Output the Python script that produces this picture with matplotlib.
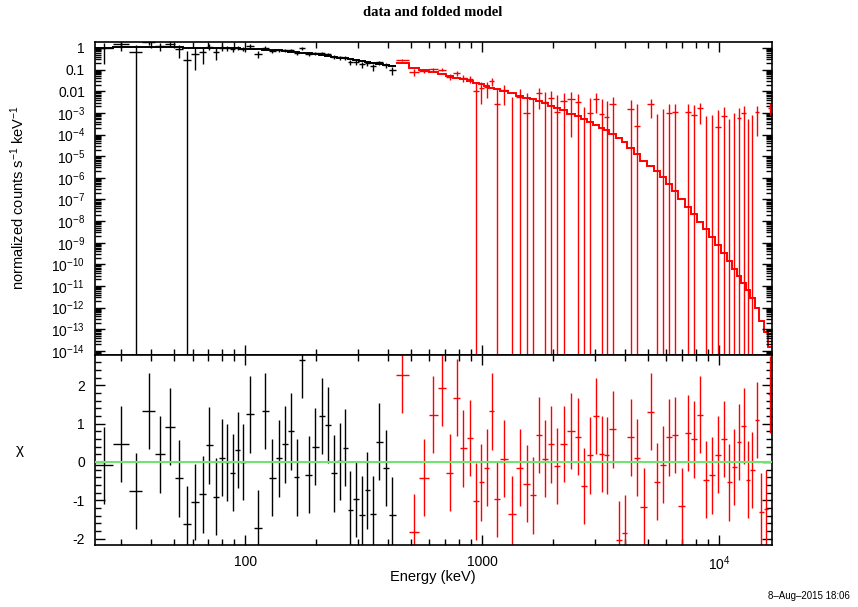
import numpy as np
import matplotlib
matplotlib.use("Agg")
import matplotlib.pyplot as plt
from matplotlib.ticker import (LogLocator, FuncFormatter, MultipleLocator,
                               NullFormatter, FixedLocator)

plt.rcParams['font.family'] = ['Liberation Sans', 'DejaVu Sans']
plt.rcParams['mathtext.fontset'] = 'custom'
plt.rcParams['mathtext.rm'] = 'Liberation Sans'
plt.rcParams['mathtext.it'] = 'Liberation Sans:italic'

# ---- instrument 1 (black): bin edges in keV, folded rate, error, model, chi
black_edges = [23.2, 27.6, 32.3, 36.9, 41.5, 45.9, 50.4, 54.8, 59.4, 64.0, 68.4,
               73.0, 77.5, 81.9, 86.4, 91.0, 95.5, 101.0, 108.6, 117.4, 126.0,
               134.9, 143.6, 152.3, 161.0, 169.5, 179.5, 191.4, 204.7, 217.6,
               230.6, 244.4, 258.3, 271.2, 285.0, 302.0, 319.9, 336.7, 356.2,
               380.2, 405.7, 431.5]
black_rate = [0.975, 1.45, 0.631, 1.81, 1.22, 1.53, 0.857, 0.265, 0.550, 0.640,
              1.17, 0.654, 1.01, 0.974, 0.885, 1.02, 0.933, 1.28, 0.545, 1.05,
              0.756, 0.788, 0.779, 0.772, 0.598, 0.975, 0.526, 0.565, 0.587,
              0.523, 0.374, 0.364, 0.357, 0.227, 0.217, 0.175, 0.192, 0.141,
              0.215, 0.163, 0.099]
black_err = [0.8, 0.7, 0.68, 0.5, 0.5, 0.47, 0.5, 0.48, 0.45, 0.45, 0.4, 0.38,
             0.32, 0.28, 0.25, 0.22, 0.2, 0.3, 0.2, 0.15, 0.14, 0.13, 0.12, 0.12,
             0.12, 0.14, 0.11, 0.1, 0.09, 0.09, 0.08, 0.08, 0.07, 0.06, 0.06,
             0.055, 0.05, 0.05, 0.045, 0.045, 0.04]
black_model = [1.047, 1.122, 1.148, 1.148, 1.122, 1.096, 1.072, 1.047, 1.023,
               1.023, 1.0, 1.0, 0.977, 0.977, 0.955, 0.955, 0.933, 0.912, 0.891,
               0.851, 0.813, 0.776, 0.724, 0.676, 0.646, 0.603, 0.562, 0.525,
               0.479, 0.437, 0.398, 0.363, 0.331, 0.302, 0.275, 0.251, 0.229,
               0.209, 0.191, 0.170, 0.155]
black_chi = [-0.09, 0.47, -0.76, 1.33, 0.20, 0.92, -0.43, -1.63, -1.05, -0.85,
             0.43, -0.91, 0.11, -0.01, -0.28, 0.31, 0.0, 1.24, -1.73, 1.33,
             -0.41, 0.09, 0.46, 0.80, -0.40, 2.66, -0.33, 0.40, 1.20, 0.96,
             -0.30, 0.01, 0.37, -1.25, -0.97, -1.38, -0.74, -1.37, 0.53, -0.16,
             -1.39]

# ---- instrument 2 (red)
red_edges = [433.5, 489.8, 543.3, 595.7, 650.6, 703.5, 755.6, 807.8, 861.5,
             916.2, 968.3, 1019, 1074, 1127, 1191, 1283, 1390, 1493, 1595, 1695,
             1796, 1905, 2017, 2138, 2291, 2462, 2623, 2782, 2951, 3119, 3281,
             3451, 3664, 3890, 4111, 4366, 4656, 4977, 5321, 5653, 5986, 6339,
             6745, 7198, 7638, 8091, 8547, 9057, 9616, 10180, 10760, 11330,
             11880, 12420, 12980, 13560, 14130, 14790, 15450, 16080, 16740]
red_rate = [0.275, 0.077, 0.0873, 0.1015, 0.0991, 0.048, 0.0679, 0.0404, 0.0383,
            0.0106, 0.0145, 0.0157, 0.0286, 0.0026, 0.0112, -0.00234, 0.00526,
            0.00102, -0.00175, 0.00794, 0.00323, 0.00486, 0.00114, 0.00367,
            0.00458, 0.00333, -0.0019, 0.00101, 0.0046, 0.0009, 0.00067, 0.00249,
            -0.00541, -0.00479, 0.00156, 0.00025, -0.00234, 0.00249, -0.00094,
            -0.00012, 0.00102, 0.00105, -0.00173, 0.00105, 0.00083, 0.0016,
            -0.0006, -0.00042, 0.00023, 0.00072, -0.00058, -0.00014, 0.00057,
            0.00103, -0.00046, -0.00021, 0.00109, -0.0013, -0.00122, 0.00176]
red_err = [0.035, 0.025, 0.02, 0.018, 0.017, 0.016, 0.015, 0.014, 0.013, 0.013,
           0.012, 0.011, 0.011, 0.010, 0.009, 0.0075, 0.007, 0.007, 0.0068,
           0.0065, 0.006, 0.0058, 0.0055, 0.005, 0.0045, 0.004, 0.0038, 0.0037,
           0.0036, 0.0033, 0.003, 0.0028, 0.0027, 0.0026, 0.0024, 0.0022, 0.002,
           0.0019, 0.0018, 0.0017, 0.0016, 0.0015, 0.0015, 0.0014, 0.0014,
           0.0013, 0.0013, 0.0012, 0.0012, 0.0012, 0.0011, 0.0011, 0.0011,
           0.0011, 0.001, 0.001, 0.001, 0.001, 0.001, 0.001]
red_model = [0.195, 0.123, 0.0955, 0.0794, 0.0661, 0.0525, 0.0427, 0.0355,
             0.0302, 0.024, 0.0209, 0.0174, 0.0141, 0.0123, 0.0105, 0.00794,
             0.00631, 0.00501, 0.00417, 0.00339, 0.00275, 0.00219, 0.00174,
             0.00132, 9.3e-4, 6.9e-4, 5.0e-4, 3.8e-4, 2.8e-4, 2.1e-4, 1.6e-4,
             1.1e-4, 7.1e-5, 4.5e-5, 2.5e-5, 1.26e-5, 6.3e-6, 3.5e-6, 2.0e-6,
             1.05e-6, 5.0e-7, 2.5e-7, 1.05e-7, 4.7e-8, 2.1e-8, 9.5e-9, 4.5e-9,
             1.8e-9, 7.9e-10, 3.2e-10, 1.4e-10, 6.3e-11, 2.8e-11, 1.4e-11,
             6.3e-12, 2.8e-12, 1.0e-12, 2.5e-13, 7.9e-14, 1.6e-14]
red_chi = [2.28, -1.84, -0.41, 1.23, 1.94, -0.28, 1.68, 0.35, 0.62, -1.03,
           -0.53, -0.15, 1.32, -0.97, 0.08, -1.37, -0.15, -0.57, -0.87, 0.70,
           0.08, 0.46, -0.11, 0.47, 0.81, 0.66, -0.63, 0.17, 1.20, 0.21, 0.17,
           0.85, -2.03, -1.86, 0.64, 0.11, -1.17, 1.31, -0.52, -0.07, 0.64, 0.70,
           -1.15, 0.75, 0.59, 1.23, -0.46, -0.35, 0.19, 0.60, -0.53, -0.13, 0.52,
           0.94, -0.46, -0.21, 1.09, -1.30, -1.22, 1.76]

chi_ticks = [-2, -1, 0, 1, 2]

fig = plt.figure(figsize=(8.58, 6.07), dpi=100)
ax1 = fig.add_axes([0.1104, 0.4152, 0.789, 0.5156])
ax2 = fig.add_axes([0.1104, 0.1021, 0.789, 0.3131], sharex=ax1)

ax1.set_xscale('log')
ax1.set_yscale('log')

for edges, rate, err, model, chi, col in [
        (black_edges, black_rate, black_err, black_model, black_chi, 'black'),
        (red_edges, red_rate, red_err, red_model, red_chi, '#ff0000')]:
    edges = np.array(edges)
    lo, hi = edges[:-1], edges[1:]
    cen = np.sqrt(lo * hi)
    xe = [cen - lo, hi - cen]
    ax1.errorbar(cen, rate, xerr=xe, yerr=err, fmt='none', ecolor=col,
                 elinewidth=1.0, capsize=0)
    ax1.stairs(model, edges, color=col, lw=1.4, baseline=None)
    ax2.errorbar(cen, chi, xerr=xe, yerr=1.0, fmt='none', ecolor=col,
                 elinewidth=1.0, capsize=0)

ax2.axhline(0, color='#72e272', lw=1.5, zorder=3)

ax1.set_xlim(23.2, 16690)
ax1.set_ylim(6.5e-15, 1.89)
ax2.set_ylim(-2.17, 2.79)


def ylab(v, pos):
    e = int(round(np.log10(v)))
    if e == 0:
        return '1'
    if e == -1:
        return '0.1'
    if e == -2:
        return '0.01'
    return r'$10^{%d}$' % e


def xlab(v, pos):
    e = int(round(np.log10(v)))
    if e <= 3:
        return '%d' % int(round(v))
    return r'$10^{%d}$' % e


ax1.yaxis.set_major_locator(LogLocator(base=10, numticks=40))
ax1.yaxis.set_minor_locator(LogLocator(base=10, subs=np.arange(2, 10), numticks=40))
ax1.yaxis.set_major_formatter(FuncFormatter(ylab))
ax1.yaxis.set_minor_formatter(NullFormatter())
ax1.xaxis.set_major_locator(LogLocator(base=10, numticks=10))
ax1.xaxis.set_minor_locator(LogLocator(base=10, subs=np.arange(2, 10), numticks=10))
ax2.xaxis.set_major_formatter(FuncFormatter(xlab))
ax2.xaxis.set_minor_formatter(NullFormatter())
ax2.yaxis.set_major_locator(FixedLocator(chi_ticks))
ax2.yaxis.set_minor_locator(MultipleLocator(0.2))
ax2.yaxis.set_major_formatter(FuncFormatter(lambda v, p: '%d' % int(round(v))))
ax2.yaxis.set_minor_formatter(NullFormatter())

for ax in (ax1, ax2):
    ax.tick_params(which='both', direction='in', top=True, right=True,
                   width=1.0, labelsize=10, pad=7)
    ax.tick_params(which='major', length=7)
    ax.tick_params(which='minor', length=4, labelleft=False, labelbottom=False)
    for s in ax.spines.values():
        s.set_linewidth(1.2)
ax1.tick_params(labelbottom=False)

fig.text(433 / 858, 1 - 12 / 607, 'data and folded model', ha='center',
         va='center', family='Liberation Serif', weight='bold', fontsize=10.5)
fig.text(18 / 858, 1 - 198 / 607, r'normalized counts s$^{-1}$ keV$^{-1}$',
         rotation=90, ha='center', va='center', fontsize=10.5)
fig.text(20 / 858, 1 - 450 / 607, 'χ', ha='center', va='center', fontsize=11)
fig.text(433 / 858, 1 - 577 / 607, 'Energy (keV)', ha='center', va='center',
         fontsize=10.5)
fig.text(850 / 858, 1 - 596 / 607, '8–Aug–2015 18:06', ha='right',
         va='center', fontsize=7)

fig.savefig('out.png', dpi=100)
